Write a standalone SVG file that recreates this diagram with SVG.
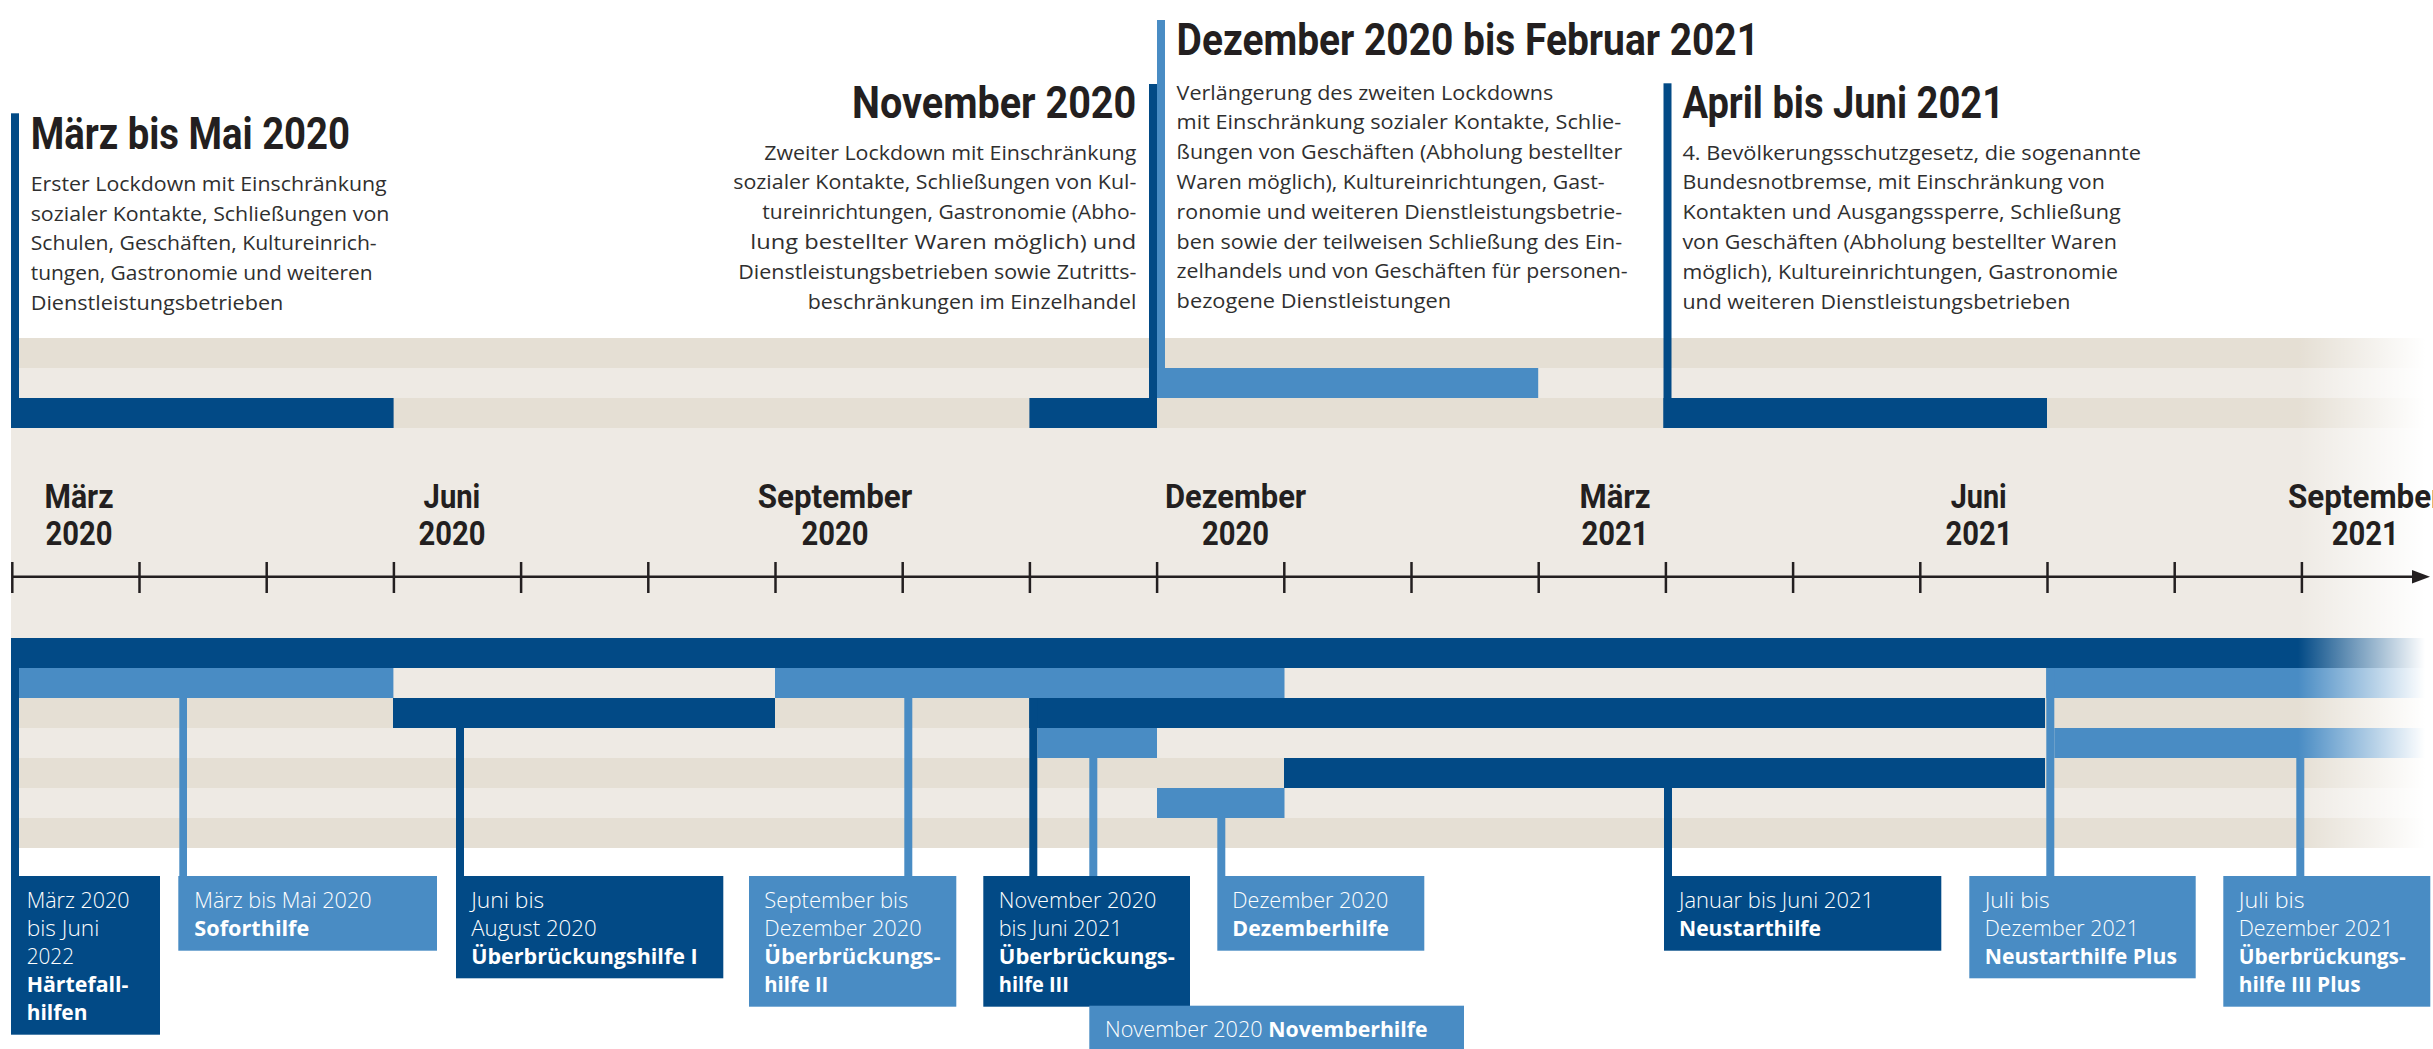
<svg xmlns="http://www.w3.org/2000/svg" width="2433" height="1049" viewBox="0 0 2433 1049">
<defs>
<style>
.dk{fill:#024a86}
.lt{fill:#498cc4}
.bgd{fill:#e5dfd4}
.bgl{fill:#eeeae4}
.title{font-family:Roboto,'Liberation Sans',sans-serif;font-weight:700;font-size:44px;fill:#231f20}
.desc{font-family:'Open Sans','Liberation Sans',sans-serif;font-weight:400;font-size:19.5px;fill:#2f2f2f}
.month{font-family:Roboto,'Liberation Sans',sans-serif;font-weight:700;font-size:33px;fill:#231f20}
.bl{font-family:'Open Sans','Liberation Sans',sans-serif;font-weight:300;font-size:22px;fill:#ffffff}
.bb{font-family:'Open Sans','Liberation Sans',sans-serif;font-weight:700;font-size:22px;fill:#ffffff}
.tick{stroke:#231f20;stroke-width:2.5}
</style>
<linearGradient id="fade" gradientUnits="userSpaceOnUse" x1="2298" y1="0" x2="2425" y2="0">
<stop offset="0" stop-color="#ffffff" stop-opacity="0"/>
<stop offset="1" stop-color="#ffffff" stop-opacity="1"/>
</linearGradient>
</defs>
<rect x="0" y="0" width="2433" height="1049" fill="#ffffff"/>

<g id="background">
<rect class="bgd" x="11" y="338" width="2422" height="30"/>
<rect class="bgl" x="11" y="368" width="2422" height="30"/>
<rect class="bgd" x="11" y="398" width="2422" height="30"/>
<rect class="bgl" x="11" y="428" width="2422" height="210"/>
<rect class="bgd" x="11" y="638" width="2422" height="30"/>
<rect class="bgl" x="11" y="668" width="2422" height="30"/>
<rect class="bgd" x="11" y="698" width="2422" height="30"/>
<rect class="bgl" x="11" y="728" width="2422" height="30"/>
<rect class="bgd" x="11" y="758" width="2422" height="30"/>
<rect class="bgl" x="11" y="788" width="2422" height="30"/>
<rect class="bgd" x="11" y="818" width="2422" height="30"/>
</g>

<g id="bars">
<rect class="dk" x="11" y="398" width="382.6" height="30"/>
<rect class="dk" x="1029.4" y="398" width="127.6" height="30"/>
<rect class="lt" x="1157" y="368" width="381.2" height="30"/>
<rect class="dk" x="1663.5" y="398" width="383.5" height="30"/>
<rect class="dk" x="11" y="638" width="2422" height="30"/>
<rect class="lt" x="19" y="668" width="374.4" height="30"/>
<rect class="lt" x="775" y="668" width="509.5" height="30"/>
<rect class="lt" x="2046.3" y="668" width="386.7" height="30"/>
<rect class="dk" x="393" y="698" width="382" height="30"/>
<rect class="dk" x="1029.3" y="698" width="1015.7" height="30"/>
<rect class="lt" x="1037.3" y="728" width="119.7" height="30"/>
<rect class="lt" x="2054.3" y="728" width="378.7" height="30"/>
<rect class="dk" x="1284" y="758" width="761" height="30"/>
<rect class="lt" x="1157" y="788" width="127.5" height="30"/>
</g>

<g id="connectors">
<rect class="dk" x="11" y="113.3" width="8" height="314.7"/>
<rect class="dk" x="1149" y="84" width="8" height="344"/>
<rect class="lt" x="1157" y="20" width="8" height="348"/>
<rect class="dk" x="1663.5" y="83.3" width="8" height="344.7"/>
<rect class="dk" x="11" y="668" width="8" height="208"/>
<rect class="lt" x="179.3" y="698" width="7.7" height="178"/>
<rect class="dk" x="456" y="728" width="8" height="148"/>
<rect class="lt" x="904.3" y="698" width="8" height="178"/>
<rect class="dk" x="1029.3" y="698" width="8" height="178"/>
<rect class="lt" x="1089.3" y="758" width="8" height="248"/>
<rect class="lt" x="1217.3" y="818" width="8" height="58"/>
<rect class="dk" x="1664" y="788" width="8" height="88"/>
<rect class="lt" x="2046.3" y="668" width="8" height="208"/>
<rect class="lt" x="2296.3" y="758" width="8" height="118"/>
</g>

<rect id="fade-overlay" x="2298" y="338" width="135" height="510" fill="url(#fade)"/>

<g id="axis">
<line x1="12" y1="576.7" x2="2415" y2="576.7" stroke="#231f20" stroke-width="2.5"/>
<polygon points="2412,570 2430,576.7 2412,583.4" fill="#231f20"/>
<line class="tick" x1="12.3" y1="562" x2="12.3" y2="593"/>
<line class="tick" x1="139.5" y1="562" x2="139.5" y2="593"/>
<line class="tick" x1="266.7" y1="562" x2="266.7" y2="593"/>
<line class="tick" x1="393.9" y1="562" x2="393.9" y2="593"/>
<line class="tick" x1="521.1" y1="562" x2="521.1" y2="593"/>
<line class="tick" x1="648.3" y1="562" x2="648.3" y2="593"/>
<line class="tick" x1="775.5" y1="562" x2="775.5" y2="593"/>
<line class="tick" x1="902.7" y1="562" x2="902.7" y2="593"/>
<line class="tick" x1="1029.9" y1="562" x2="1029.9" y2="593"/>
<line class="tick" x1="1157.1" y1="562" x2="1157.1" y2="593"/>
<line class="tick" x1="1284.3" y1="562" x2="1284.3" y2="593"/>
<line class="tick" x1="1411.5" y1="562" x2="1411.5" y2="593"/>
<line class="tick" x1="1538.7" y1="562" x2="1538.7" y2="593"/>
<line class="tick" x1="1665.9" y1="562" x2="1665.9" y2="593"/>
<line class="tick" x1="1793.1" y1="562" x2="1793.1" y2="593"/>
<line class="tick" x1="1920.3" y1="562" x2="1920.3" y2="593"/>
<line class="tick" x1="2047.5" y1="562" x2="2047.5" y2="593"/>
<line class="tick" x1="2174.7" y1="562" x2="2174.7" y2="593"/>
<line class="tick" x1="2301.9" y1="562" x2="2301.9" y2="593"/>
</g>

<g id="month-labels">
<text class="month" x="44.5" y="508.3" textLength="69" lengthAdjust="spacingAndGlyphs">März</text>
<text class="month" x="45.5" y="545" textLength="67" lengthAdjust="spacingAndGlyphs">2020</text>
<text class="month" x="423.6" y="508.3" textLength="56.7" lengthAdjust="spacingAndGlyphs">Juni</text>
<text class="month" x="418.5" y="545" textLength="67" lengthAdjust="spacingAndGlyphs">2020</text>
<text class="month" x="757.7" y="508.3" textLength="154.6" lengthAdjust="spacingAndGlyphs">September</text>
<text class="month" x="801.5" y="545" textLength="67" lengthAdjust="spacingAndGlyphs">2020</text>
<text class="month" x="1164.9" y="508.3" textLength="141.3" lengthAdjust="spacingAndGlyphs">Dezember</text>
<text class="month" x="1202" y="545" textLength="67" lengthAdjust="spacingAndGlyphs">2020</text>
<text class="month" x="1579.5" y="508.3" textLength="71" lengthAdjust="spacingAndGlyphs">März</text>
<text class="month" x="1581.5" y="545" textLength="67" lengthAdjust="spacingAndGlyphs">2021</text>
<text class="month" x="1950.7" y="508.3" textLength="56" lengthAdjust="spacingAndGlyphs">Juni</text>
<text class="month" x="1945.5" y="545" textLength="67" lengthAdjust="spacingAndGlyphs">2021</text>
<text class="month" x="2288" y="508.3" textLength="154.6" lengthAdjust="spacingAndGlyphs">September</text>
<text class="month" x="2331.8" y="545" textLength="67" lengthAdjust="spacingAndGlyphs">2021</text>
</g>

<g id="lockdown-maerz-mai-2020">
<text class="title" x="30.7" y="149.3" textLength="319.3" lengthAdjust="spacingAndGlyphs">März bis Mai 2020</text>
<text class="desc" x="30.7" y="190.7" textLength="356" lengthAdjust="spacingAndGlyphs">Erster Lockdown mit Einschränkung</text>
<text class="desc" x="30.7" y="220.5" textLength="358.7" lengthAdjust="spacingAndGlyphs">sozialer Kontakte, Schließungen von</text>
<text class="desc" x="30.7" y="250.3" textLength="346" lengthAdjust="spacingAndGlyphs">Schulen, Geschäften, Kultureinrich-</text>
<text class="desc" x="30.7" y="280.1" textLength="342" lengthAdjust="spacingAndGlyphs">tungen, Gastronomie und weiteren</text>
<text class="desc" x="30.7" y="309.9" textLength="252.7" lengthAdjust="spacingAndGlyphs">Dienstleistungsbetrieben</text>
</g>

<g id="lockdown-november-2020">
<text class="title" x="852" y="118.3" textLength="284.3" lengthAdjust="spacingAndGlyphs">November 2020</text>
<text class="desc" x="764.3" y="159.5" textLength="372" lengthAdjust="spacingAndGlyphs">Zweiter Lockdown mit Einschränkung</text>
<text class="desc" x="733.3" y="189.3" textLength="403" lengthAdjust="spacingAndGlyphs">sozialer Kontakte, Schließungen von Kul-</text>
<text class="desc" x="762.3" y="219.1" textLength="374" lengthAdjust="spacingAndGlyphs">tureinrichtungen, Gastronomie (Abho-</text>
<text class="desc" x="750.3" y="248.9" textLength="386" lengthAdjust="spacingAndGlyphs">lung bestellter Waren möglich) und</text>
<text class="desc" x="738.3" y="278.7" textLength="398" lengthAdjust="spacingAndGlyphs">Dienstleistungsbetrieben sowie Zutritts-</text>
<text class="desc" x="807.8" y="308.5" textLength="328.5" lengthAdjust="spacingAndGlyphs">beschränkungen im Einzelhandel</text>
</g>

<g id="lockdown-dezember-2020-februar-2021">
<text class="title" x="1176.6" y="55" textLength="582.4" lengthAdjust="spacingAndGlyphs">Dezember 2020 bis Februar 2021</text>
<text class="desc" x="1176.6" y="99.5" textLength="376.6" lengthAdjust="spacingAndGlyphs">Verlängerung des zweiten Lockdowns</text>
<text class="desc" x="1176.6" y="129.3" textLength="444.7" lengthAdjust="spacingAndGlyphs">mit Einschränkung sozialer Kontakte, Schlie-</text>
<text class="desc" x="1176.6" y="159.1" textLength="445.7" lengthAdjust="spacingAndGlyphs">ßungen von Geschäften (Abholung bestellter</text>
<text class="desc" x="1176.6" y="188.9" textLength="428" lengthAdjust="spacingAndGlyphs">Waren möglich), Kultureinrichtungen, Gast-</text>
<text class="desc" x="1176.6" y="218.7" textLength="445.5" lengthAdjust="spacingAndGlyphs">ronomie und weiteren Dienstleistungsbetrie-</text>
<text class="desc" x="1176.6" y="248.5" textLength="445.5" lengthAdjust="spacingAndGlyphs">ben sowie der teilweisen Schließung des Ein-</text>
<text class="desc" x="1176.6" y="278.3" textLength="451" lengthAdjust="spacingAndGlyphs">zelhandels und von Geschäften für personen-</text>
<text class="desc" x="1176.6" y="308.1" textLength="274.5" lengthAdjust="spacingAndGlyphs">bezogene Dienstleistungen</text>
</g>

<g id="lockdown-april-juni-2021">
<text class="title" x="1682.4" y="118.3" textLength="321.6" lengthAdjust="spacingAndGlyphs">April bis Juni 2021</text>
<text class="desc" x="1682.4" y="159.5" textLength="458.6" lengthAdjust="spacingAndGlyphs">4. Bevölkerungsschutzgesetz, die sogenannte</text>
<text class="desc" x="1682.4" y="189.3" textLength="422.4" lengthAdjust="spacingAndGlyphs">Bundesnotbremse, mit Einschränkung von</text>
<text class="desc" x="1682.4" y="219.1" textLength="438.3" lengthAdjust="spacingAndGlyphs">Kontakten und Ausgangssperre, Schließung</text>
<text class="desc" x="1682.4" y="248.9" textLength="434.6" lengthAdjust="spacingAndGlyphs">von Geschäften (Abholung bestellter Waren</text>
<text class="desc" x="1682.4" y="278.7" textLength="435.7" lengthAdjust="spacingAndGlyphs">möglich), Kultureinrichtungen, Gastronomie</text>
<text class="desc" x="1682.4" y="308.5" textLength="388" lengthAdjust="spacingAndGlyphs">und weiteren Dienstleistungsbetrieben</text>
</g>

<g id="haertefallhilfen">
<rect class="dk" x="11" y="876" width="149" height="158.7"/>
<text class="bl" x="26.7" y="908.3" textLength="102.7" lengthAdjust="spacingAndGlyphs">März 2020</text>
<text class="bl" x="26.7" y="936.3" textLength="72.7" lengthAdjust="spacingAndGlyphs">bis Juni</text>
<text class="bl" x="26.7" y="964.3" textLength="47.3" lengthAdjust="spacingAndGlyphs">2022</text>
<text class="bb" x="26.7" y="992.3" textLength="101.7" lengthAdjust="spacingAndGlyphs">Härtefall-</text>
<text class="bb" x="26.7" y="1020.3" textLength="60.7" lengthAdjust="spacingAndGlyphs">hilfen</text>
</g>

<g id="soforthilfe">
<rect class="lt" x="178.3" y="876" width="258.7" height="74.7"/>
<text class="bl" x="194.3" y="908.3" textLength="177.3" lengthAdjust="spacingAndGlyphs">März bis Mai 2020</text>
<text class="bb" x="194.3" y="936.3" textLength="115" lengthAdjust="spacingAndGlyphs">Soforthilfe</text>
</g>

<g id="ueberbrueckungshilfe-1">
<rect class="dk" x="456" y="876" width="267.3" height="102.3"/>
<text class="bl" x="471.2" y="908.3" textLength="73" lengthAdjust="spacingAndGlyphs">Juni bis</text>
<text class="bl" x="471.2" y="936.3" textLength="125.5" lengthAdjust="spacingAndGlyphs">August 2020</text>
<text class="bb" x="471.2" y="964.3" textLength="226.5" lengthAdjust="spacingAndGlyphs">Überbrückungshilfe I</text>
</g>

<g id="ueberbrueckungshilfe-2">
<rect class="lt" x="749" y="876" width="207.3" height="130.7"/>
<text class="bl" x="764.3" y="908.3" textLength="144" lengthAdjust="spacingAndGlyphs">September bis</text>
<text class="bl" x="764.3" y="936.3" textLength="157.3" lengthAdjust="spacingAndGlyphs">Dezember 2020</text>
<text class="bb" x="764.3" y="964.3" textLength="176.3" lengthAdjust="spacingAndGlyphs">Überbrückungs-</text>
<text class="bb" x="764.3" y="992.3" textLength="64" lengthAdjust="spacingAndGlyphs">hilfe II</text>
</g>

<g id="ueberbrueckungshilfe-3">
<rect class="dk" x="983.3" y="876" width="206.7" height="130.7"/>
<text class="bl" x="998.8" y="908.3" textLength="157.7" lengthAdjust="spacingAndGlyphs">November 2020</text>
<text class="bl" x="998.8" y="936.3" textLength="123.7" lengthAdjust="spacingAndGlyphs">bis Juni 2021</text>
<text class="bb" x="998.8" y="964.3" textLength="176" lengthAdjust="spacingAndGlyphs">Überbrückungs-</text>
<text class="bb" x="998.8" y="992.3" textLength="70" lengthAdjust="spacingAndGlyphs">hilfe III</text>
</g>

<g id="novemberhilfe">
<rect class="lt" x="1089.3" y="1005.7" width="374.7" height="43.3"/>
<text class="bl" y="1036.7"><tspan x="1105" textLength="157.7" lengthAdjust="spacingAndGlyphs">November 2020</tspan> <tspan class="bb" x="1268.3" textLength="159.3" lengthAdjust="spacingAndGlyphs">Novemberhilfe</tspan></text>
</g>

<g id="dezemberhilfe">
<rect class="lt" x="1217.3" y="876" width="207" height="74.7"/>
<text class="bl" x="1232.3" y="908.3" textLength="156" lengthAdjust="spacingAndGlyphs">Dezember 2020</text>
<text class="bb" x="1232.3" y="936.3" textLength="156.7" lengthAdjust="spacingAndGlyphs">Dezemberhilfe</text>
</g>

<g id="neustarthilfe">
<rect class="dk" x="1664" y="876" width="277.3" height="74.7"/>
<text class="bl" x="1679" y="908.3" textLength="195" lengthAdjust="spacingAndGlyphs">Januar bis Juni 2021</text>
<text class="bb" x="1679" y="936.3" textLength="142" lengthAdjust="spacingAndGlyphs">Neustarthilfe</text>
</g>

<g id="neustarthilfe-plus">
<rect class="lt" x="1969.3" y="876" width="226.4" height="102.3"/>
<text class="bl" x="1984.7" y="908.3" textLength="65" lengthAdjust="spacingAndGlyphs">Juli bis</text>
<text class="bl" x="1984.7" y="936.3" textLength="154.3" lengthAdjust="spacingAndGlyphs">Dezember 2021</text>
<text class="bb" x="1984.7" y="964.3" textLength="192.3" lengthAdjust="spacingAndGlyphs">Neustarthilfe Plus</text>
</g>

<g id="ueberbrueckungshilfe-3-plus">
<rect class="lt" x="2223.3" y="876" width="207" height="130.7"/>
<text class="bl" x="2238.7" y="908.3" textLength="66" lengthAdjust="spacingAndGlyphs">Juli bis</text>
<text class="bl" x="2238.7" y="936.3" textLength="154.7" lengthAdjust="spacingAndGlyphs">Dezember 2021</text>
<text class="bb" x="2238.7" y="964.3" textLength="167" lengthAdjust="spacingAndGlyphs">Überbrückungs-</text>
<text class="bb" x="2238.7" y="992.3" textLength="122" lengthAdjust="spacingAndGlyphs">hilfe III Plus</text>
</g>
</svg>
